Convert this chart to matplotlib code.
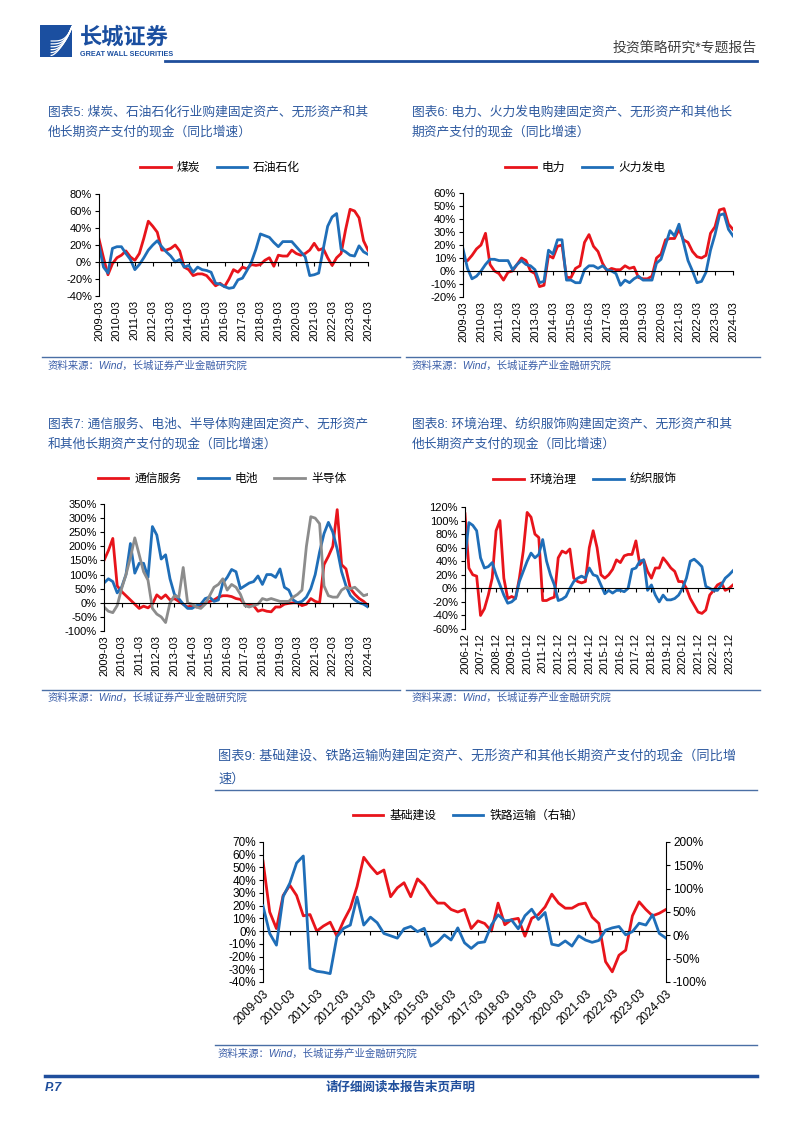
import matplotlib
matplotlib.use('Agg')
import numpy as np
import matplotlib.pyplot as plt
from matplotlib.lines import Line2D
from matplotlib.patches import Rectangle
from matplotlib.ticker import FuncFormatter, MultipleLocator

plt.rcParams['font.family'] = ['Liberation Sans', 'Noto Sans CJK SC', 'DejaVu Sans']
plt.rcParams['axes.unicode_minus'] = False

# ---- data (同比增速, %) ----
q_labels = [f'{y}-03' for y in range(2009, 2025)]          # 2009Q1..2024Q1, 61 pts
dec_labels = [f'{y}-12' for y in range(2006, 2024)]        # 2006Q4..2024Q1, 70 pts

coal = [27, 5, -15, -2, 5, 8, 13, 6, 2, 10, 28, 48, 42, 35, 14, 14, 16, 20, 13, -6,
        -9, -16, -14, -14, -16, -22, -28, -25, -29, -20, -9, -12, -6, -8, -3, -4, -3, 2, 5, -5,
        8, 7, 7, 14, 10, 8, 10, 14, 22, 14, 16, 5, -4, 5, 10, 38, 62, 60, 52, 25, 14]
petro = [20, -6, -13, 16, 18, 18, 10, 3, -9, -3, 5, 14, 20, 25, 18, 12, 7, 0, 3, -6,
         -4, -12, -6, -9, -10, -12, -25, -26, -29, -31, -30, -21, -19, -10, 0, 15, 33, 31, 29, 23,
         18, 24, 24, 24, 18, 12, 6, -16, -15, -13, 15, 42, 53, 57, 15, 12, 8, 7, 19, 12, 9]

power = [8, 8, 12, 17, 20, 29, 5, 0, -2, -7, -1, 0, 5, 10, 8, 0, -2, -12, -11, 12,
         10, 19, 20, -5, -5, 2, 4, 22, 28, 19, 15, 6, 0, 2, 1, 1, 4, 2, 3, -5,
         -6, -6, -4, 10, 13, 24, 25, 25, 32, 24, 22, 15, 11, 10, 12, 29, 34, 47, 48, 36, 32]
thermal = [17, 2, -6, -4, 0, 5, 9, 9, 8, 8, 8, 1, 5, 8, 5, 4, 1, -9, -8, 16,
           13, 24, 24, -7, -7, -9, -9, 1, 4, 4, 2, 4, 1, 0, -2, -11, -7, -9, -6, -4,
           -7, -7, -7, 6, 9, 20, 31, 27, 36, 22, 8, 0, -9, -8, -1, 16, 28, 43, 44, 32, 27]

telecom = [150, 185, 228, 60, 40, 25, 10, -5, -20, -12, -18, -5, 28, 15, 28, 10, 15, 5, -5, -15,
           -10, -15, -12, -2, 5, 10, 20, 25, 25, 22, 15, 12, -5, -8, -10, -30, -25, -30, -32, -15,
           -15, -5, -2, 0, 0, -10, -5, 15, 5, 0, 135, 165, 200, 330, 135, 120, 50, 30, 15, 5, -10]
battery = [70, 85, 75, 35, 55, 100, 210, 105, 140, 140, 90, 270, 240, 155, 170, 85, 30, 15, -5, -20,
           -20, -10, -5, 15, 20, 5, 10, 70, 90, 118, 110, 50, 60, 70, 75, 95, 65, 100, 100, 90,
           120, 55, 45, 10, 0, 5, 20, 50, 100, 180, 245, 285, 250, 190, 110, 60, 25, 10, 0, -5, -15]
semi = [-15, -30, -35, -10, 50, 100, 160, 230, 170, 110, 80, -20, -40, -50, -70, 0, 25, 20, 125, 0,
        -5, -15, -20, -5, 25, 55, 65, 85, 45, 65, 55, 30, -10, -15, -10, -5, 15, 10, 15, 10,
        5, 5, 5, 20, 30, 45, 200, 305, 300, 280, 60, 25, 20, 20, 45, 55, 50, 55, 40, 25, 30]

env = [110, 30, 20, 18, -40, -30, -10, 15, 85, 100, 15, -15, -12, -15, 15, 55, 112, 105, 80, 75,
       -18, -18, -15, -13, 45, 55, 52, 58, 15, 10, 8, 10, 60, 85, 60, 20, 15, 20, 28, 42,
       38, 48, 50, 50, 70, 35, 42, 25, 15, 30, 30, 45, 38, 30, 25, 10, 10, 0, -15, -25,
       -35, -37, -32, -10, -3, 5, 8, -3, 0, 5]
textile = [45, 97, 93, 85, 45, 30, 32, 38, 20, 5, -10, -22, -20, -15, 10, 25, 40, 52, 45, 50,
           72, 40, 20, 5, -18, -16, -12, 0, 10, 15, 18, 15, 30, 20, 18, 5, -8, -3, -7, -3,
           -3, -5, 0, 28, 30, 40, 42, -3, 5, -10, -20, -10, -17, -17, -15, -10, 0, 15, 40, 43,
           38, 32, 3, 0, -3, -3, 5, 15, 20, 26]

infra = [55, 15, 2, 28, 36, 28, 12, 13, 0, 4, 7, -4, 8, 18, 35, 58, 51, 45, 48, 27,
         34, 38, 27, 41, 36, 28, 22, 22, 17, 15, 17, 2, 8, 6, 0, 22, 5, 9, 10, -4,
         10, 13, 19, 29, 22, 18, 18, 21, 22, 11, 6, -24, -32, -19, -15, 12, 23, 17, 12, 14, 17]
rail = [63, 4, -21, 83, 112, 155, 170, -71, -77, -79, -82, -3, 15, 22, 82, 22, 39, 27, 4, -1,
        -6, 14, 19, 8, 15, -23, -14, 1, -10, 16, -16, -28, -16, -14, 22, 44, 31, 33, 14, 42,
        56, 34, 49, -19, -22, -12, -23, -1, -10, -15, -11, 11, 16, 19, 1, 8, 26, 22, 44, 4, -6]

RED = '#E8141B'
BLUE = '#1F6EB8'
GRAY = '#8C8C8C'
NAVY = '#1F4E9C'
TCOL = '#2E5AA0'

W, H = 802, 1133
fig = plt.figure(figsize=(W / 100, H / 100), dpi=100)


def rect(x0, y0, x1, y1):
    return [x0 / W, 1 - y1 / H, (x1 - x0) / W, (y1 - y0) / H]


def hline(x0, x1, y, color=NAVY, lw=1.0):
    fig.add_artist(Line2D([x0 / W, x1 / W], [1 - y / H, 1 - y / H], color=color, lw=lw))


def ftext(x, y, s, **kw):
    fig.text(x / W, 1 - y / H, s, va='center', **kw)


pct = FuncFormatter(lambda v, p: f'{v:.0f}%')


def setup(ax, labels, n, ylim, step, rot=90, fs=8):
    ax.set_xlim(0, n - 1)
    ax.set_ylim(*ylim)
    ax.yaxis.set_major_locator(MultipleLocator(step))
    ax.yaxis.set_major_formatter(pct)
    ax.spines['top'].set_visible(False)
    ax.spines['right'].set_visible(False)
    ax.spines['bottom'].set_position(('data', 0))
    for s in ['bottom', 'left']:
        ax.spines[s].set_linewidth(0.8)
    ticks = np.arange(0, n, 4)
    ax.set_xticks(ticks)
    ax.tick_params(axis='x', labelbottom=False, length=3, width=0.8)
    ax.tick_params(axis='y', length=3, width=0.8, labelsize=fs, pad=2)
    sec = ax.secondary_xaxis('bottom')
    sec.spines['bottom'].set_visible(False)
    sec.set_xticks(ticks)
    if rot == 90:
        sec.set_xticklabels(labels, rotation=90, fontsize=fs)
        sec.tick_params(length=0, pad=3)
    else:
        sec.set_xticklabels(labels, rotation=45, fontsize=fs, ha='right', rotation_mode='anchor')
        sec.tick_params(length=0, pad=4)


def legend(ax, handles, names, cx, cy):
    ax.legend(handles, names, loc='center', bbox_to_anchor=(cx / W, 1 - cy / H),
              bbox_transform=fig.transFigure, ncol=len(names), frameon=False,
              fontsize=8.5, handlelength=2.6, columnspacing=1.4, handletextpad=0.5)


src = '资料来源：Wind，长城证券产业金融研究院'

# ---- header ----
logo = fig.add_axes(rect(40, 25, 72, 57))
logo.set_xlim(0, 1)
logo.set_ylim(0, 1)
logo.axis('off')
logo.add_patch(Rectangle((0, 0), 1, 1, color='#1B4FA0'))
t = np.linspace(0, 1, 50)
for k in range(6):
    logo.plot(0.35 + 0.65 * t, 0.05 + k * 0.09 + (0.9 - k * 0.09) * t ** (1.6 + 0.4 * k),
              color='white', lw=0.9)
ftext(80, 38, '长城证券', fontsize=16, fontweight='bold', color='#1B4FA0')
ftext(80, 54, 'GREAT WALL SECURITIES', fontsize=5.2, fontweight='bold', color='#1B4FA0')
ftext(757, 48, '投资策略研究*专题报告', fontsize=10, color='#404040', ha='right')
hline(165, 757, 61, NAVY, 2.0)

# ---- titles ----
ftext(48, 112, '图表5: 煤炭、石油石化行业购建固定资产、无形资产和其', fontsize=9.2, color=TCOL)
ftext(48, 132, '他长期资产支付的现金（同比增速）', fontsize=9.2, color=TCOL)
ftext(412, 112, '图表6: 电力、火力发电购建固定资产、无形资产和其他长', fontsize=9.2, color=TCOL)
ftext(412, 132, '期资产支付的现金（同比增速）', fontsize=9.2, color=TCOL)
ftext(48, 424, '图表7: 通信服务、电池、半导体购建固定资产、无形资产', fontsize=9.2, color=TCOL)
ftext(48, 444, '和其他长期资产支付的现金（同比增速）', fontsize=9.2, color=TCOL)
ftext(412, 424, '图表8: 环境治理、纺织服饰购建固定资产、无形资产和其', fontsize=9.2, color=TCOL)
ftext(412, 444, '他长期资产支付的现金（同比增速）', fontsize=9.2, color=TCOL)
ftext(218, 757, '图表9: 基础建设、铁路运输购建固定资产、无形资产和其他长期资产支付的现金（同比增',
      fontsize=9.5, color=TCOL)
ftext(218, 779, '速）', fontsize=9.5, color=TCOL)
hline(215, 757, 790, '#4A6FA5', 1.0)

# ---- chart 5 ----
ax5 = fig.add_axes(rect(99, 194, 368, 296))
x = np.arange(len(coal))
l1, = ax5.plot(x, coal, color=RED, lw=2)
l2, = ax5.plot(x, petro, color=BLUE, lw=2)
setup(ax5, q_labels, len(coal), (-40, 80), 20)
legend(ax5, [l1, l2], ['煤炭', '石油石化'], 220, 168)

# ---- chart 6 ----
ax6 = fig.add_axes(rect(463, 193, 733, 297))
l1, = ax6.plot(x, power, color=RED, lw=2)
l2, = ax6.plot(x, thermal, color=BLUE, lw=2)
setup(ax6, q_labels, len(power), (-20, 60), 10)
legend(ax6, [l1, l2], ['电力', '火力发电'], 585, 168)

hline(42, 400, 357, '#4A6FA5', 1.0)
hline(406, 760, 357, '#4A6FA5', 1.0)
ftext(48, 366, src, fontsize=7.5, color='#3B5EA8', style='italic')
ftext(412, 366, src, fontsize=7.5, color='#3B5EA8', style='italic')

# ---- chart 7 ----
ax7 = fig.add_axes(rect(104, 504, 368, 631))
l1, = ax7.plot(x, telecom, color=RED, lw=2)
l2, = ax7.plot(x, battery, color=BLUE, lw=2)
l3, = ax7.plot(x, semi, color=GRAY, lw=2)
setup(ax7, q_labels, len(telecom), (-100, 350), 50)
legend(ax7, [l1, l2, l3], ['通信服务', '电池', '半导体'], 222, 479)

# ---- chart 8 ----
ax8 = fig.add_axes(rect(465, 507, 733, 629))
x8 = np.arange(len(env))
l1, = ax8.plot(x8, env, color=RED, lw=2)
l2, = ax8.plot(x8, textile, color=BLUE, lw=2)
setup(ax8, dec_labels, len(env), (-60, 120), 20)
legend(ax8, [l1, l2], ['环境治理', '纺织服饰'], 585, 480)

hline(42, 400, 690, '#4A6FA5', 1.0)
hline(406, 760, 690, '#4A6FA5', 1.0)
ftext(48, 698, src, fontsize=7.5, color='#3B5EA8', style='italic')
ftext(412, 698, src, fontsize=7.5, color='#3B5EA8', style='italic')

# ---- chart 9 ----
ax9 = fig.add_axes(rect(263, 842, 666, 982))
l1, = ax9.plot(x, infra, color=RED, lw=2)
setup(ax9, q_labels, len(infra), (-40, 70), 10, rot=45, fs=8.5)
ax9r = ax9.twinx()
l2, = ax9r.plot(x, rail, color=BLUE, lw=2)
ax9r.set_ylim(-100, 200)
ax9r.yaxis.set_major_locator(MultipleLocator(50))
ax9r.yaxis.set_major_formatter(pct)
for s in ['top', 'left', 'bottom']:
    ax9r.spines[s].set_visible(False)
ax9r.spines['right'].set_linewidth(0.8)
ax9r.tick_params(axis='y', length=3, width=0.8, labelsize=8.5, pad=2)
legend(ax9r, [l1, l2], ['基础建设', '铁路运输（右轴）'], 468, 816)

hline(215, 757, 1045, '#4A6FA5', 1.0)
ftext(218, 1054, src, fontsize=7.5, color='#3B5EA8', style='italic')

# ---- footer ----
hline(45, 757, 1076, NAVY, 2.5)
ftext(45, 1088, 'P.7', fontsize=9, fontweight='bold', style='italic', color=NAVY)
ftext(401, 1088, '请仔细阅读本报告末页声明', fontsize=9, fontweight='bold', color=NAVY, ha='center')

fig.savefig('out.png', dpi=100)
